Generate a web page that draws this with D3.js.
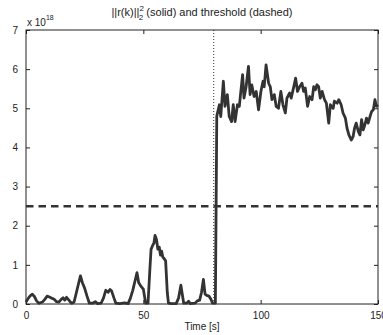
<!DOCTYPE html>
<html>
<head>
<meta charset="utf-8">
<script src="https://cdn.jsdelivr.net/npm/d3@7"></script>
<style>
  body { margin: 0; background: #fff; }
  text { font-family: "Liberation Sans", Arial, sans-serif; fill: #222; }
</style>
</head>
<body>
<svg width="383" height="335"></svg>
<script>
// time [s] and residual norm (x 1e18)
var times = [0, 1, 2, 2.7, 3.5, 4.5, 5.5, 7, 8, 9, 10, 11, 12, 13, 14, 15, 15.8, 16.5, 17.3, 18, 18.8, 19.5,
  20.5, 21.5, 22.5, 23.2, 24, 25, 26, 27, 28.5, 29.5, 30.5, 32, 33, 34, 35, 35.8, 36.5, 37.5, 38.3, 40, 42, 43.5,
  44.5, 45.5, 46.5, 47.3, 48, 49, 50, 50.5, 51, 52, 52.8, 53.3, 54, 54.5, 55, 55.6, 56.2, 56.8, 57.3, 57.8, 58.3,
  59, 59.5, 60.2, 60.7, 62, 64, 65, 66, 66.6, 67.2, 68.5, 69.3, 70, 72, 73, 74, 74.8, 75.6, 76.3, 77, 78, 78.8,
  79.5, 80.7, 81.3, 82.4, 83, 84.1, 84.8, 85.8, 86.6, 87.6, 88.3, 89.1, 90.1, 90.9, 92.3, 92.9, 93.8, 94.8, 95.5,
  96.2, 97.2, 98.1, 99.1, 100.1, 101, 101.5, 102.3, 103.4, 104.1, 104.8, 105.8, 106.6, 107.6, 108.6, 109.5, 110.5,
  111.2, 112.3, 113, 114, 114.9, 115.7, 116.6, 117.6, 118.3, 119, 120, 120.9, 121.9, 122.6, 123.3, 124, 124.7,
  125.4, 126.2, 127.2, 128, 129, 129.7, 130.9, 131.4, 132.6, 133.3, 134.3, 135.1, 136.1, 136.8, 137.6, 138.6,
  139.4, 140, 140.7, 141.6, 142.3, 143, 143.7, 144.4, 145.1, 145.8, 146.6, 147.3, 148, 148.7, 149.3, 150];
var values = [0.05, 0.15, 0.22, 0.25, 0.2, 0.08, 0.02, 0.05, 0.12, 0.2, 0.18, 0.15, 0.12, 0.06, 0.05, 0.12, 0.16,
  0.1, 0.17, 0.12, 0.06, 0.02, 0.05, 0.3, 0.55, 0.72, 0.55, 0.4, 0.2, 0.02, 0.02, 0.06, 0.01, 0.02, 0.15, 0.35,
  0.3, 0.37, 0.33, 0.15, 0.02, 0.01, 0.03, 0.01, 0.15, 0.35, 0.6, 0.8, 0.55, 0.45, 0.38, 0.2, 0.02, 0.02, 0.9,
  1.4, 1.5, 1.55, 1.75, 1.65, 1.4, 1.45, 1.25, 1.35, 1.2, 1.15, 1.1, 0.3, 0.02, 0.01, 0.01, 0.15, 0.48, 0.25,
  0.02, 0.02, 0.07, 0.01, 0.02, 0.08, 0.1, 0.3, 0.63, 0.25, 0.22, 0.2, 0.12, 0.02, 0.02, 4.8, 5.09, 4.79, 5.69,
  5.05, 5.35, 4.79, 4.66, 5.09, 4.66, 5.09, 5.05, 5.86, 5.26, 5.55, 6.07, 5.35, 5.6, 5.3, 5.43, 4.96, 5.43,
  5.69, 5.55, 6.11, 5.64, 5.55, 5.22, 5.35, 5.05, 5.0, 5.43, 5.09, 4.88, 5.26, 5.39, 5.26, 5.52, 5.77, 5.43,
  5.55, 5.64, 5.43, 5.52, 5.05, 5.3, 5.22, 5.55, 5.47, 5.6, 5.55, 5.26, 5.43, 5.22, 5.13, 4.62, 5.09, 5.0, 5.18,
  5.13, 5.22, 5.09, 4.88, 4.75, 4.49, 4.32, 4.19, 4.28, 4.49, 4.62, 4.41, 4.32, 4.71, 4.45, 4.58, 4.75, 4.62,
  4.79, 4.92, 4.96, 5.22, 5.05, 5.09];
var threshold = 2.5;
var changeTime = 80;
var xTicks = [0, 50, 100, 150];
var yTicks = [0, 1, 2, 3, 4, 5, 6, 7];

var svg = d3.select("svg");
var mLeft = 26, mRight = 378, mTop = 30, mBottom = 304;

var x = d3.scaleLinear().domain([0, 150]).range([mLeft, mRight]);
var y = d3.scaleLinear().domain([0, 7]).range([mBottom, mTop]);

// box
svg.append("rect")
    .attr("x", mLeft).attr("y", mTop)
    .attr("width", mRight - mLeft).attr("height", mBottom - mTop)
    .attr("fill", "none").attr("stroke", "#222").attr("stroke-width", 1);

// axes with inward ticks
function styleAxis(g) {
    g.select(".domain").remove();
    g.selectAll("line").attr("stroke", "#222");
    g.selectAll("text").attr("fill", "#222").style("font-size", "10px")
        .style("font-family", "'Liberation Sans', Arial, sans-serif");
}
var fmt = d3.format("d");
svg.append("g").attr("transform", "translate(0," + mBottom + ")")
    .call(d3.axisBottom(x).tickValues(xTicks).tickFormat(fmt).tickSizeInner(-4).tickSizeOuter(0).tickPadding(8))
    .call(styleAxis);
svg.append("g").attr("transform", "translate(0," + mTop + ")")
    .call(d3.axisTop(x).tickValues(xTicks).tickSizeInner(-4).tickSizeOuter(0).tickFormat(""))
    .call(styleAxis);
svg.append("g").attr("transform", "translate(" + mLeft + ",0)")
    .call(d3.axisLeft(y).tickValues(yTicks).tickFormat(fmt).tickSizeInner(-4).tickSizeOuter(0).tickPadding(8))
    .call(styleAxis);
svg.append("g").attr("transform", "translate(" + mRight + ",0)")
    .call(d3.axisRight(y).tickValues(yTicks).tickSizeInner(-4).tickSizeOuter(0).tickFormat(""))
    .call(styleAxis);

// threshold (dashed)
svg.append("line")
    .attr("x1", x(0)).attr("x2", x(150))
    .attr("y1", y(threshold)).attr("y2", y(threshold))
    .attr("stroke", "#333").attr("stroke-width", 2.5)
    .attr("stroke-dasharray", "7.5,5");

// change time (dotted)
svg.append("line")
    .attr("x1", x(changeTime)).attr("x2", x(changeTime))
    .attr("y1", y(7)).attr("y2", y(0))
    .attr("stroke", "#333").attr("stroke-width", 1)
    .attr("stroke-dasharray", "1,2");

// residual (solid)
var line = d3.line()
    .x(function(d, i) { return x(times[i]); })
    .y(function(d) { return y(d); });
svg.append("path")
    .datum(values)
    .attr("d", line)
    .attr("fill", "none")
    .attr("stroke", "#333")
    .attr("stroke-width", 2.8)
    .attr("stroke-linejoin", "round");

// title
var title = svg.append("text")
    .attr("x", 202).attr("y", 16)
    .attr("text-anchor", "middle")
    .style("font-size", "11px");
title.append("tspan").text("||r(k)||");
title.append("tspan").attr("dy", -5).style("font-size", "8px").text("2");
title.append("tspan").attr("dx", -5).attr("dy", 9).style("font-size", "8px").text("2");
title.append("tspan").attr("dy", -4).text(" (solid) and threshold (dashed)");

// exponent label
var ex = svg.append("text").attr("x", 27).attr("y", 26).style("font-size", "10px");
ex.append("tspan").text("x 10");
ex.append("tspan").attr("dy", -6).style("font-size", "7px").text("18");

// x label
svg.append("text")
    .attr("x", 202).attr("y", 330)
    .attr("text-anchor", "middle")
    .style("font-size", "10px")
    .text("Time [s]");
</script>
</body>
</html>
